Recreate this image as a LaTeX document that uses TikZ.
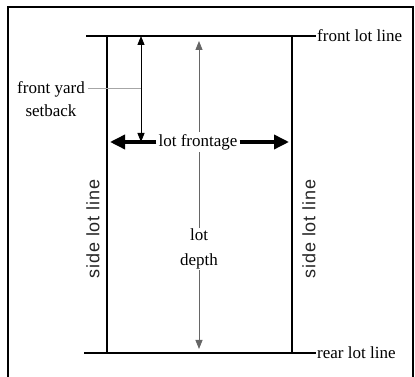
\documentclass[tikz,border=0pt]{standalone}
\usepackage{fontspec}
\setmainfont{Liberation Serif}
\newfontfamily\sidefont[LetterSpace=5]{Liberation Sans}
\usetikzlibrary{arrows.meta, positioning, calc}

\begin{document}
\begin{tikzpicture}[x=1pt, y=1pt]
    \tikzset{
      lotline/.style={line width=1.5pt},
      thinarrow/.style={line width=0.9pt, {Triangle[length=9pt, width=7pt]}-{Triangle[length=9pt, width=7pt]}},
      widearrow/.style={line width=3.5pt, -{Triangle[length=15pt, width=14pt]}},
      deptharrow/.style={gray!80!black, line width=0.9pt},
      lbl/.style={font=\fontsize{17}{20}\selectfont, inner sep=1pt},
      sidelbl/.style={font=\sidefont\fontsize{18}{20}\selectfont, text=black!85, rotate=90},
    }
    \useasboundingbox (0,0) rectangle (415,377);
    \draw[line width=2.5pt] (8,-10) -- (8,370) -- (413,370) -- (413,-10);

    % lot lines
    \node[lbl, anchor=west] (front) at (316,341) {front lot line};
    \node[lbl, anchor=west] (rear) at (316,24) {rear lot line};
    \coordinate (fl) at (86,341);
    \coordinate (rl) at (84,24);
    \draw[lotline] (fl) -- (front.west);
    \draw[lotline] (rl) -- (rear.west);
    \coordinate (tl) at (107,341);
    \coordinate (bl) at (107,24);
    \coordinate (tr) at (292,341);
    \coordinate (br) at (292,24);
    \draw[lotline] (tl) -- (bl);
    \draw[lotline] (tr) -- (br);
    \node[sidelbl] (sideL) at (93,148) {side lot line};
    \node[sidelbl] (sideR) at (309,148) {side lot line};

    % setback
    \coordinate (sb) at (141,235);
    \coordinate (st) at (141,341);
    \draw[thinarrow] (st) -- (sb);
    \node[lbl, align=center, font=\fontsize{17}{23}\selectfont] (setback) at (51,278) {front yard\\setback};
    \coordinate (ld) at (88,289);
    \draw[gray!70, line width=0.5pt] (ld) -- (st |- ld);

    % frontage
    \node[lbl, fill=white, inner sep=2pt] (frontage) at (198,235) {lot frontage};
    \draw[widearrow] (frontage.west) -- (110,235);
    \draw[widearrow] (frontage.east) -- (289,235);

    % depth
    \node[lbl, align=center, font=\fontsize{17}{25}\selectfont] (depth) at (199,128) {lot\\depth};
    \draw[deptharrow, -{Triangle[length=9pt, width=7pt]}] (frontage.north -| depth) -- (199,336);
    \draw[deptharrow] (frontage.south -| depth) -- (depth.north);
    \draw[deptharrow, -{Triangle[length=9pt, width=7pt]}] (depth.south) -- (199,28);
\end{tikzpicture}
\end{document}
